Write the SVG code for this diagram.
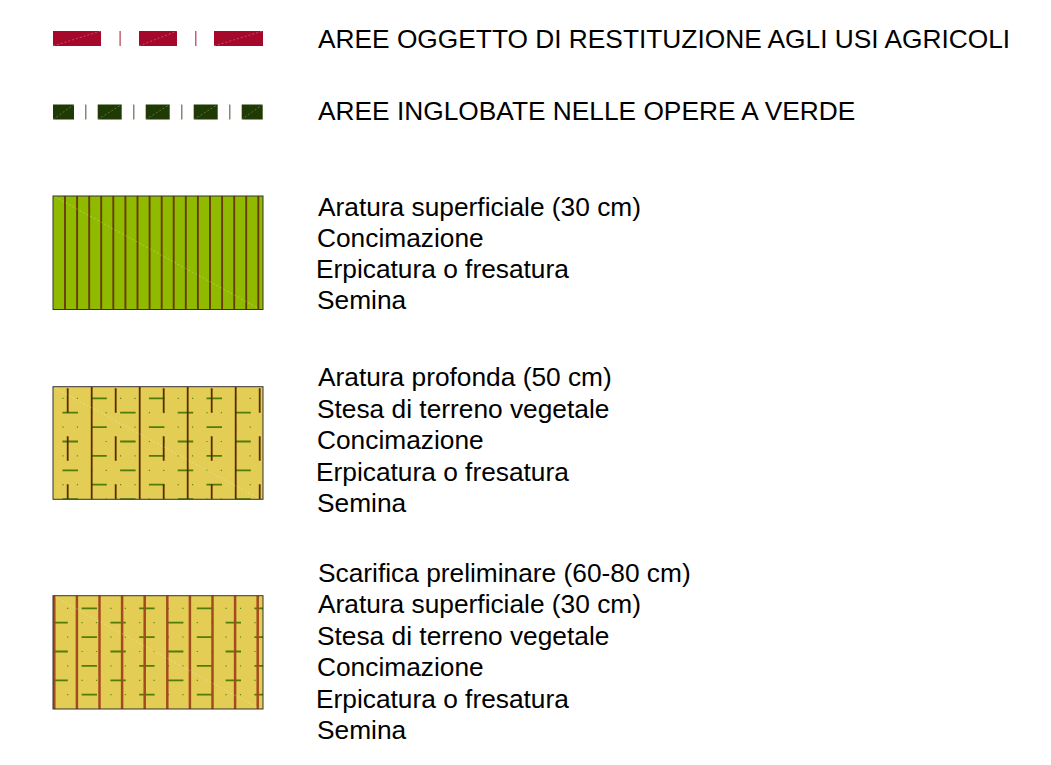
<svg xmlns="http://www.w3.org/2000/svg" width="1051" height="765" viewBox="0 0 1051 765">
<style>
.t{font-family:"Liberation Sans",Arial,sans-serif;font-size:26.3px;fill:#000}
.red{fill:#a6082c}
.dg{fill:#1f3b03}
.box{stroke:#333;stroke-width:1;fill:none}
.diag{stroke:#ffffff;stroke-opacity:0.35;stroke-width:0.8;stroke-dasharray:2 2;fill:none}
.gd{stroke:#4f7d08;stroke-width:1.8;fill:none}
.gdot{stroke:#5d8a1a;stroke-width:1.2;fill:none}
.br{stroke:#5a2c00;stroke-width:1.8;fill:none}
.st{stroke:#6b3c00;stroke-width:1.9;fill:none}
.or{stroke:#a44a1f;stroke-width:2.5;fill:none}
</style>
<defs>
<clipPath id="c2"><rect x="53" y="386.7" width="210" height="112.6"/></clipPath>
<clipPath id="c3"><rect x="53" y="595.7" width="210" height="113.3"/></clipPath>
<g id="aEven">
<path class="gd" d="M91.3 0H106.8M148.9 0H164.4M206.5 0H222"/>
<path class="gdot" d="M62.4 0h1.2M76.8 0h1.2M120 0h1.2M134.4 0h1.2M177.6 0h1.2M192 0h1.2M235.2 0h1.2M249.6 0h1.2"/>
</g>
<g id="aOdd">
<path class="gd" d="M62.5 0H78M120.1 0H135.6M177.7 0H193.2M235.3 0H250.8"/>
<path class="gdot" d="M91.2 0h1.2M105.6 0h1.2M148.8 0h1.2M163.2 0h1.2M206.4 0h1.2M220.8 0h1.2"/>
</g>
<g id="bEven">
<path class="gd" d="M81.6 0H97M139.2 0H154.6M196.8 0H212.2M254.4 0H263"/>
<path class="gdot" d="M53.2 0h1.2M67.1 0h1.2M110.3 0h1.2M124.7 0h1.2M167.9 0h1.2M182.3 0h1.2M225.5 0h1.2M239.9 0h1.2"/>
</g>
<g id="bOdd">
<path class="gd" d="M53 0H67.8M110.4 0H125.8M168 0H183.4M225.6 0H241"/>
<path class="gdot" d="M81.5 0h1.2M95.9 0h1.2M139.1 0h1.2M153.5 0h1.2M196.7 0h1.2M211.1 0h1.2M254.3 0h1.2"/>
</g>
</defs>

<g id="legend-restituzione">
<rect class="red" x="53" y="31" width="48" height="15"/>
<rect class="red" x="119.5" y="31" width="1.2" height="15" opacity="0.8"/>
<rect class="red" x="139" y="31" width="38" height="15"/>
<rect class="red" x="195.2" y="31" width="1.2" height="15" opacity="0.8"/>
<rect class="red" x="214" y="31" width="49" height="15"/>
<line class="diag" x1="53" y1="46" x2="101" y2="31"/>
<line class="diag" x1="139" y1="46" x2="177" y2="31"/>
<line class="diag" x1="214" y1="46" x2="263" y2="31"/>
<text class="t" x="318" y="48">AREE OGGETTO DI RESTITUZIONE AGLI USI AGRICOLI</text>
</g>

<g id="legend-inglobate">
<rect class="dg" x="53" y="104.5" width="21" height="15"/>
<rect class="dg" x="85.2" y="104.5" width="1.2" height="15" opacity="0.7"/>
<rect class="dg" x="97.7" y="104.5" width="24" height="15"/>
<rect class="dg" x="133.2" y="104.5" width="1.2" height="15" opacity="0.7"/>
<rect class="dg" x="145.7" y="104.5" width="24" height="15"/>
<rect class="dg" x="181.2" y="104.5" width="1.2" height="15" opacity="0.7"/>
<rect class="dg" x="193.7" y="104.5" width="24" height="15"/>
<rect class="dg" x="229.2" y="104.5" width="1.2" height="15" opacity="0.7"/>
<rect class="dg" x="241.7" y="104.5" width="21" height="15"/>
<line class="diag" x1="53" y1="119.5" x2="74" y2="104.5"/>
<line class="diag" x1="97.7" y1="119.5" x2="121.7" y2="104.5"/>
<line class="diag" x1="145.7" y1="119.5" x2="169.7" y2="104.5"/>
<line class="diag" x1="193.7" y1="119.5" x2="217.7" y2="104.5"/>
<line class="diag" x1="241.7" y1="119.5" x2="262.7" y2="104.5"/>
<text class="t" x="318" y="120">AREE INGLOBATE NELLE OPERE A VERDE</text>
</g>

<g id="legend-aratura-superficiale">
<rect x="53" y="196" width="210" height="113.5" fill="#8fba00"/>
<path class="st" d="M65 196V309.5M77.1 196V309.5M89.2 196V309.5M101.2 196V309.5M113.3 196V309.5M125.4 196V309.5M137.5 196V309.5M149.6 196V309.5M161.7 196V309.5M173.7 196V309.5M185.8 196V309.5M197.9 196V309.5M210 196V309.5M222.1 196V309.5M234.2 196V309.5M246.2 196V309.5M258.3 196V309.5"/>
<line class="diag" x1="55" y1="197" x2="258" y2="308"/>
<rect class="box" x="53" y="196" width="210" height="113.5"/>
<text class="t" x="318" y="215.5">Aratura superficiale (30 cm)</text>
<text class="t" x="317" y="246.8">Concimazione</text>
<text class="t" x="316" y="278.1">Erpicatura o fresatura</text>
<text class="t" x="317" y="309.4">Semina</text>
</g>

<g id="legend-aratura-profonda">
<rect x="53" y="386.7" width="210" height="112.6" fill="#e3cd55"/>
<g clip-path="url(#c2)">
<use href="#aEven" y="398.3"/>
<use href="#aOdd" y="412.7"/>
<use href="#aEven" y="427.1"/>
<use href="#aOdd" y="441.5"/>
<use href="#aEven" y="455.9"/>
<use href="#aOdd" y="470.3"/>
<use href="#aEven" y="484.7"/>
<use href="#aOdd" y="499.1"/>
<path class="br" d="M91.7 386.7V499.3M139.7 386.7V499.3M187.7 386.7V499.3M235.7 386.7V499.3"/>
<path class="br" d="M67.7 388.3V412.7M67.7 436.3V460.7M67.7 484.3V499.3M115.7 388.3V412.7M115.7 436.3V460.7M115.7 484.3V499.3M163.7 388.3V412.7M163.7 436.3V460.7M163.7 484.3V499.3M211.7 388.3V412.7M211.7 436.3V460.7M211.7 484.3V499.3M259.7 388.3V412.7M259.7 436.3V460.7M259.7 484.3V499.3"/>
</g>
<line class="diag" x1="55" y1="388" x2="258" y2="498"/>
<rect class="box" x="53" y="386.7" width="210" height="112.6"/>
<text class="t" x="318" y="386">Aratura profonda (50 cm)</text>
<text class="t" x="317" y="417.5">Stesa di terreno vegetale</text>
<text class="t" x="317" y="449">Concimazione</text>
<text class="t" x="316" y="480.5">Erpicatura o fresatura</text>
<text class="t" x="317" y="512">Semina</text>
</g>

<g id="legend-scarifica">
<rect x="53" y="595.7" width="210" height="113.3" fill="#e3cd55"/>
<g clip-path="url(#c3)">
<use href="#bEven" y="608.3"/>
<use href="#bOdd" y="622.7"/>
<use href="#bEven" y="637.1"/>
<use href="#bOdd" y="651.5"/>
<use href="#bEven" y="665.9"/>
<use href="#bOdd" y="680.3"/>
<use href="#bEven" y="694.7"/>
<path class="or" d="M54.3 595.7V709M76.9 595.7V709M99.5 595.7V709M122.1 595.7V709M144.7 595.7V709M167.3 595.7V709M189.9 595.7V709M212.5 595.7V709M235.1 595.7V709M257.7 595.7V709"/>
</g>
<line class="diag" x1="55" y1="597" x2="258" y2="708"/>
<rect class="box" x="53" y="595.7" width="210" height="113.3"/>
<text class="t" x="318" y="581.5">Scarifica preliminare (60-80 cm)</text>
<text class="t" x="318" y="613">Aratura superficiale (30 cm)</text>
<text class="t" x="317" y="644.5">Stesa di terreno vegetale</text>
<text class="t" x="317" y="676">Concimazione</text>
<text class="t" x="316" y="707.5">Erpicatura o fresatura</text>
<text class="t" x="317" y="739">Semina</text>
</g>
</svg>
